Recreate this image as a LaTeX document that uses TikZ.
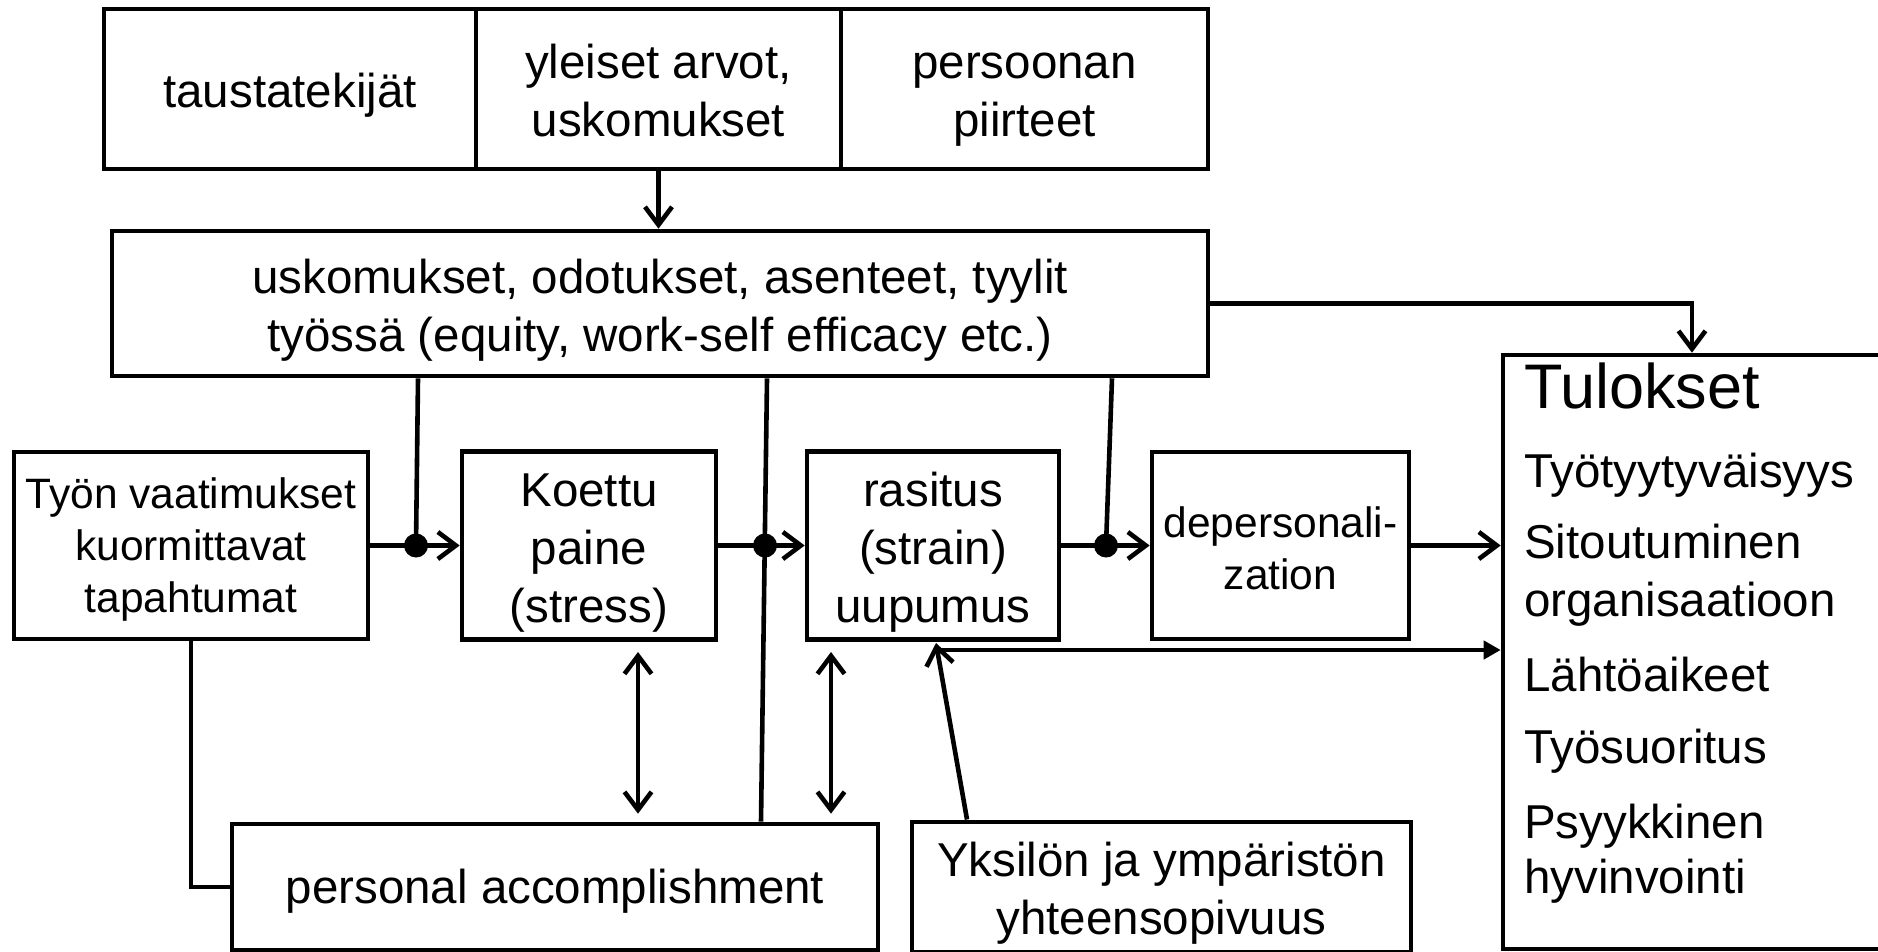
\documentclass[tikz,border=0pt]{standalone}
\usepackage{fontspec}
\setmainfont{Liberation Sans}
\usetikzlibrary{arrows.meta}
\newcommand\tsA{\rule{0pt}{55pt}}
\newcommand\tsB{\rule{0pt}{46pt}}
\newcommand\tsC{\rule{0pt}{52pt}}
\begin{document}
\begin{tikzpicture}[x=1pt,y=-1pt,
  box/.style={draw, line width=4.6pt, inner sep=0pt, align=center},
  fA/.style={font=\fontsize{47.5}{58}\selectfont},
  fB/.style={font=\fontsize{42.5}{52}\selectfont},
  con/.style={line width=4.6pt},
  arr/.style={con, -{Straight Barb[length=18pt,width=27pt]}},
  dbl/.style={con, {Straight Barb[length=18pt,width=27pt]}-{Straight Barb[length=18pt,width=27pt]}},
  tri/.style={con, -{Triangle[length=17pt,width=18pt]}},
  dot/.style={circle, fill, inner sep=0pt, minimum size=24pt},
  lbl/.style={anchor=base west, inner sep=0pt, font=\fontsize{47.5}{58}\selectfont}]
\useasboundingbox (0,0) rectangle (1878,952);
\clip (0,0) rectangle (1878,952);
\fill[white] (0,0) rectangle (1878,952);

% top row
\node[box, fA, minimum width=372pt, minimum height=160pt] (t1) at (290,89) {\tsA taustatekijät\strut};
\node[box, fA, minimum width=365pt, minimum height=160pt] (t2) at (658.5,89) {\tsA yleiset arvot,\\uskomukset\strut};
\node[box, fA, minimum width=367pt, minimum height=160pt] (t3) at (1024.5,89) {\tsA persoonan\\piirteet\strut};

% attitudes box
\node[box, fA, minimum width=1096pt, minimum height=145pt] (att) at (660,303.5)
  {\tsA uskomukset, odotukset, asenteet, tyylit\\työssä (equity, work-self efficacy etc.)\strut};

% middle row
\node[box, fB, minimum width=354pt, minimum height=187pt] (tyon) at (191,545.5) {\tsB Työn vaatimukset\\kuormittavat\\tapahtumat\strut};
\node[box, fA, minimum width=254pt, minimum height=187pt] (koettu) at (589,545.5) {\tsA Koettu\\paine\\(stress)\strut};
\node[box, fA, minimum width=252pt, minimum height=187pt] (rasitus) at (933,545.5) {\tsA rasitus\\(strain)\\uupumus\strut};
\node[box, fB, minimum width=257pt, minimum height=187pt] (deper) at (1280.5,545.5) {\tsC depersonali-\\zation\strut};

% bottom row
\node[box, fA, minimum width=646pt, minimum height=126pt] (pa) at (555,887) {\rule{0pt}{50pt}personal accomplishment\strut};
\node[box, fA, minimum width=499pt, minimum height=126pt] (yks) at (1161.5,887) {\tsA Yksilön ja ympäristön\\yhteensopivuus\strut};

% outcomes box
\node[box, minimum width=457pt, minimum height=594pt] (tul) at (1731.5,652) {};
\node[lbl, font=\fontsize{63}{70}\selectfont] (tulh) at (1524,408) {Tulokset};
\node[lbl] (o1) at (1524,487) {Työtyytyväisyys};
\node[lbl] (o2) at (1524,558) {Sitoutuminen};
\node[lbl] (o3) at (1524,616) {organisaatioon};
\node[lbl] (o4) at (1524,691) {Lähtöaikeet};
\node[lbl] (o5) at (1524,763) {Työsuoritus};
\node[lbl] (o6) at (1524,838) {Psyykkinen};
\node[lbl] (o7) at (1524,893) {hyvinvointi};

% junction dots
\node[dot] (d1) at (416,545.5) {};
\node[dot] (d2) at (765,545.5) {};
\node[dot] (d3) at (1106,545.5) {};

% connectors
\draw[arr] (t2.south) -- (t2.south |- att.north);
\draw[arr] (att.east) -| ([xshift=-39.5pt]tul.north);
\draw[arr] (tyon.east) -- (koettu.west);
\draw[arr] (koettu.east) -- (rasitus.west);
\draw[arr] (rasitus.east) -- (deper.west);
\draw[arr] (deper.east) -- (deper.east -| tul.west);
\draw[con] ([xshift=-242pt]att.south) -- (d1.center);
\draw[con] ([xshift=107pt]att.south) -- ([xshift=206pt]pa.north);
\draw[con] ([xshift=452pt]att.south) -- (d3.center);
\draw[con] (tyon.south) |- (pa.west);
\draw[dbl, shorten <=10pt, shorten >=8pt] ([xshift=49pt]koettu.south) -- ([xshift=83pt]pa.north);
\draw[dbl, shorten <=10pt, shorten >=8pt] ([xshift=-102pt]rasitus.south) -- ([xshift=276pt]pa.north);
\coordinate (hl) at ([xshift=2pt,yshift=-8pt]rasitus.south);
\draw[tri] (hl) -- (hl -| tul.west);
\draw[arr] ([xshift=-194.5pt]yks.north) -- ([xshift=3pt,yshift=-1pt]rasitus.south);
\end{tikzpicture}
\end{document}
